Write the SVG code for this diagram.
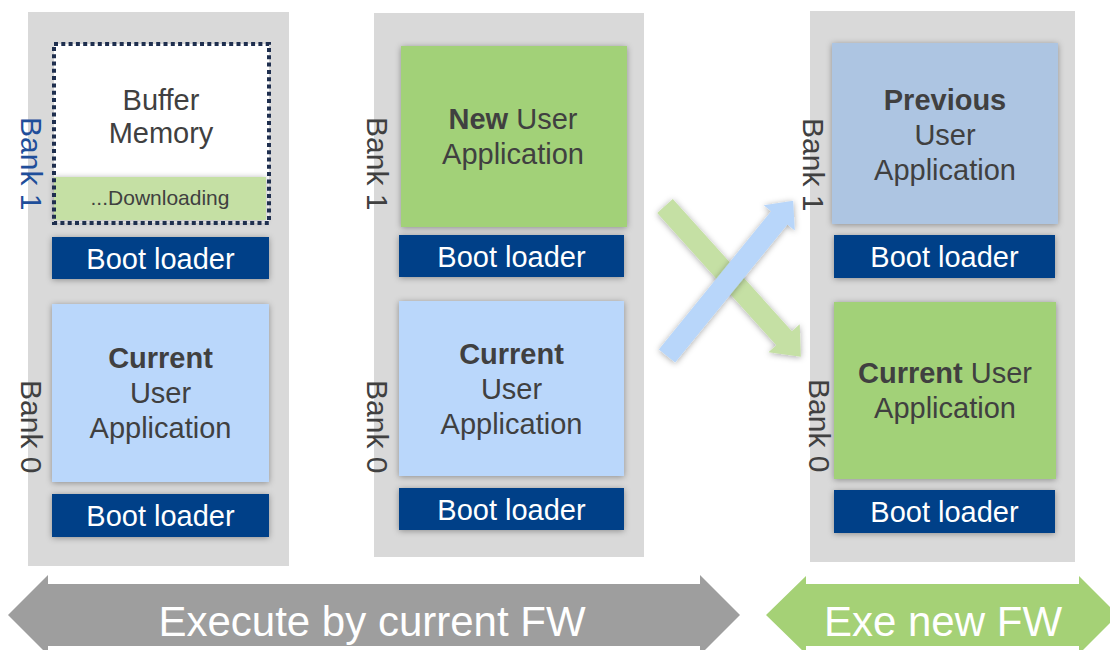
<svg xmlns="http://www.w3.org/2000/svg" width="1110" height="650" viewBox="0 0 1110 650">
<defs>
<filter id="sh" x="-20%" y="-20%" width="140%" height="140%">
<feDropShadow dx="0" dy="1" stdDeviation="3" flood-color="#000" flood-opacity="0.35"/>
</filter>
<style>
.col{fill:#d9d9d9}
.boot{fill:#033f88;filter:url(#sh)}
.bt{font-family:"Liberation Sans",Arial,sans-serif;font-size:29px;fill:#ffffff;text-anchor:middle}
.t{font-family:"Liberation Sans",Arial,sans-serif;font-size:29px;fill:#404040;text-anchor:middle}
.b{font-weight:bold}
.bank{font-family:"Liberation Sans",Arial,sans-serif;font-size:30px;fill:#404040}
.blue{fill:#bad7fb;filter:url(#sh)}
.green{fill:#a2d178;filter:url(#sh)}
.prev{fill:#adc5e2;filter:url(#sh)}
.big{font-family:"Liberation Sans",Arial,sans-serif;font-size:42px;fill:#ffffff;text-anchor:middle}
</style>
</defs>
<rect width="1110" height="650" fill="#ffffff"/>

<g id="column-left">
<rect class="col" x="28" y="12" width="261" height="554"/>
<g id="buffer-memory">
<rect x="54" y="44" width="215" height="179" fill="#ffffff"/>
<rect x="54" y="177" width="212" height="43" fill="#c5e0a4" filter="url(#sh)"/>
<rect x="54" y="44" width="215" height="179" fill="none" stroke="#1f2f4f" stroke-width="4" stroke-dasharray="4 3.3"/>
<text class="t" x="161" y="110">Buffer</text>
<text class="t" x="161" y="143">Memory</text>
<text class="t" x="160" y="205" style="font-size:21px">...Downloading</text>
</g>
<text class="bank" x="21" y="117" transform="rotate(90 21 117)" style="fill:#1f4e9a">Bank 1</text>
<g id="boot-left-1"><rect class="boot" x="52" y="237" width="217" height="42"/><text class="bt" x="160.5" y="269">Boot loader</text></g>
<g id="current-left">
<rect class="blue" x="52" y="304" width="217" height="178"/>
<text class="t b" x="160.5" y="368">Current</text>
<text class="t" x="160.5" y="403">User</text>
<text class="t" x="160.5" y="438">Application</text>
</g>
<text class="bank" x="21" y="380" transform="rotate(90 21 380)">Bank 0</text>
<g id="boot-left-0"><rect class="boot" x="52" y="494" width="217" height="43"/><text class="bt" x="160.5" y="526">Boot loader</text></g>
</g>

<g id="column-middle">
<rect class="col" x="374" y="13" width="270" height="544"/>
<g id="new-middle">
<rect class="green" x="401" y="46" width="226" height="181"/>
<text class="t" x="513" y="129"><tspan class="b">New</tspan> User</text>
<text class="t" x="513" y="164">Application</text>
</g>
<text class="bank" x="367" y="117" transform="rotate(90 367 117)">Bank 1</text>
<g id="boot-middle-1"><rect class="boot" x="399" y="235" width="225" height="42"/><text class="bt" x="511.5" y="267">Boot loader</text></g>
<g id="current-middle">
<rect class="blue" x="399" y="301" width="225" height="175"/>
<text class="t b" x="511.5" y="364">Current</text>
<text class="t" x="511.5" y="399">User</text>
<text class="t" x="511.5" y="434">Application</text>
</g>
<text class="bank" x="367" y="380" transform="rotate(90 367 380)">Bank 0</text>
<g id="boot-middle-0"><rect class="boot" x="399" y="488" width="225" height="42"/><text class="bt" x="511.5" y="520">Boot loader</text></g>
</g>

<g id="column-right">
<rect class="col" x="810" y="11" width="265" height="551"/>
<g id="previous-right">
<rect class="prev" x="832" y="43" width="226" height="181"/>
<text class="t b" x="945" y="110">Previous</text>
<text class="t" x="945" y="145">User</text>
<text class="t" x="945" y="180">Application</text>
</g>
<text class="bank" x="803" y="118" transform="rotate(90 803 118)">Bank 1</text>
<g id="boot-right-1"><rect class="boot" x="834" y="235" width="221" height="43"/><text class="bt" x="944.5" y="267">Boot loader</text></g>
<g id="current-right">
<rect class="green" x="834" y="302" width="222" height="177"/>
<text class="t" x="945" y="383"><tspan class="b">Current</tspan> User</text>
<text class="t" x="945" y="418">Application</text>
</g>
<text class="bank" x="809" y="379" transform="rotate(90 809 379)">Bank 0</text>
<g id="boot-right-0"><rect class="boot" x="834" y="490" width="221" height="43"/><text class="bt" x="944.5" y="522">Boot loader</text></g>
</g>

<g id="connectors">
<g id="swap-green" filter="url(#sh)">
<path d="M0 -10.5 L178 -10.5 L178 -21 L203 0 L178 21 L178 10.5 L0 10.5 Z" fill="#c5e0a4" transform="translate(665 206) rotate(48)"/>
</g>
<g id="swap-blue" filter="url(#sh)">
<path d="M0 -10.5 L178 -10.5 L178 -20 L200 0 L178 20 L178 10.5 L0 10.5 Z" fill="#b8d6fa" transform="translate(667 356) rotate(-50.9)"/>
</g>
<g id="exec-current">
<path d="M8 615 L48 575 L48 584 L700 584 L700 575 L740 615 L700 655 L700 646 L48 646 L48 655 Z" fill="#9e9e9e"/>
<text class="big" x="372" y="636">Execute by current FW</text>
</g>
<g id="exec-new">
<path d="M766 615 L806 576 L806 584 L1079 584 L1079 576 L1118 615 L1079 654 L1079 646 L806 646 L806 654 Z" fill="#a5d176"/>
<text class="big" x="943" y="636">Exe new FW</text>
</g>
</g>
</svg>
